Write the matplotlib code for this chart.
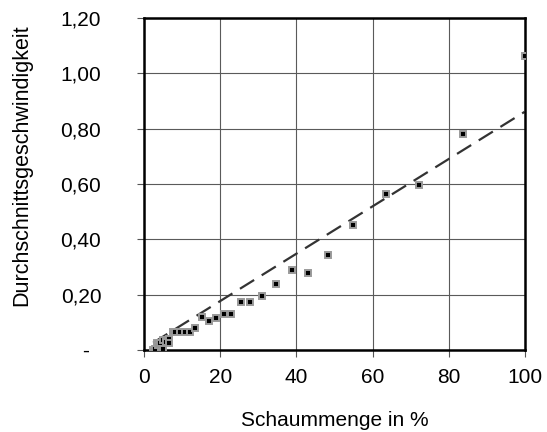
import matplotlib.pyplot as plt

plt.rcParams['font.family'] = ['Liberation Sans', 'DejaVu Sans']

# Schaummenge in % / Durchschnittsgeschwindigkeit
schaum = [2.2, 2.8, 3.3, 3.6, 4.1, 4.9, 4.9, 5.7, 6.5, 6.5, 7.4, 8.0,
          9.3, 10.6, 12.0, 13.3, 15.1, 16.9, 18.8, 20.9, 22.7,
          25.3, 27.9, 30.9, 34.5, 38.8, 43.0, 48.2, 55.0, 63.5, 72.3,
          83.8, 100.0]
geschw = [0.000, 0.002, 0.026, 0.018, 0.026, 0.036, 0.002, 0.030, 0.039, 0.024, 0.066, 0.064,
          0.064, 0.066, 0.066, 0.078, 0.119, 0.104, 0.117, 0.131, 0.131,
          0.172, 0.172, 0.196, 0.237, 0.288, 0.277, 0.342, 0.452, 0.565, 0.595,
          0.780, 1.062]

trend_x = [2.3, 100.0]
trend_y = [0.026, 0.861]

yticks = [0, 0.2, 0.4, 0.6, 0.8, 1.0, 1.2]
ytick_labels = ['-  ', '0,20', '0,40', '0,60', '0,80', '1,00', '1,20']
xticks = [0, 20, 40, 60, 80, 100]

fig = plt.figure(figsize=(5.47, 4.32), dpi=100)
ax = fig.add_axes([0.264, 0.19, 0.695, 0.768])

ax.plot(trend_x, trend_y, color='#333333', lw=1.6, dashes=(7.5, 4.0), zorder=2)
ax.plot(schaum, geschw, ls='none', marker='s', markersize=5,
        markerfacecolor='black', markeredgecolor='#9a9a9a', markeredgewidth=1.4,
        zorder=3)

ax.set_xlim(0, 100)
ax.set_ylim(0, 1.2)
ax.set_xticks(xticks)
ax.set_yticks(yticks)
ax.set_yticklabels(ytick_labels)
ax.grid(True, color='#5a5a5a', lw=0.8)
ax.set_axisbelow(True)

for s in ax.spines.values():
    s.set_linewidth(1.8)
    s.set_color('black')

ax.tick_params(axis='both', direction='out', length=5, width=0.8, color='#555555',
               labelsize=15)
ax.tick_params(axis='y', pad=26)
ax.tick_params(axis='x', pad=8)

ax.set_xlabel('Schaummenge in %', fontsize=15, labelpad=17)
ax.set_ylabel('Durchschnittsgeschwindigkeit', fontsize=15.5)
ax.yaxis.set_label_coords(-0.295, 0.557)

fig.savefig('out.png', dpi=100)
